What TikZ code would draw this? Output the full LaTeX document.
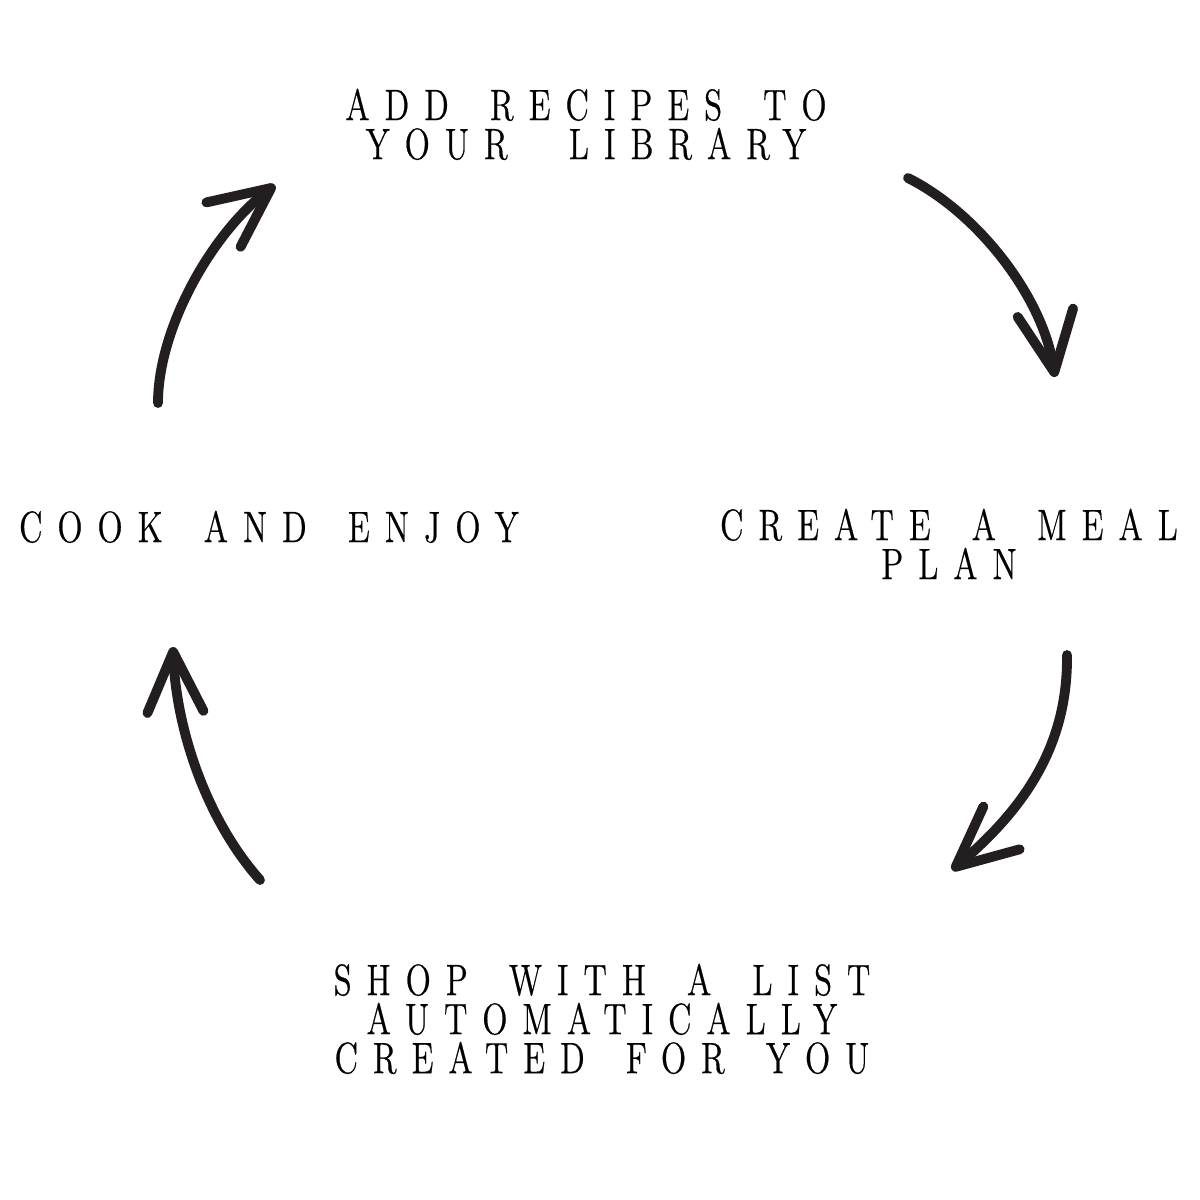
\documentclass[tikz,border=0pt]{standalone}
\usepackage{fontspec}
\usepackage{xcolor}
\usetikzlibrary{
    arrows.meta
}
\definecolor{inkgray}{HTML}{231F20}
\newfontfamily\stagefont{lmroman12-regular.otf}[FakeStretch=0.75,LetterSpace=34,WordSpace=1.6,FakeBold=0.5]

\begin{document}
\begin{tikzpicture}[x=0.01cm,y=-0.01cm,>={Straight Barb[round,length=6mm,width=5.6mm]}]
    \tikzstyle{stagetext}=[inner sep=0pt, anchor=north, align=center, text=black, font=\stagefont\fontsize{12.5pt}{11.1pt}\selectfont]
    \tikzstyle{turn}=[draw=inkgray, line width=2.8pt, line cap=round, ->]
    \useasboundingbox (0,0) rectangle (1200,1200);

	\node [stagetext] (add) at (586, 88) {ADD RECIPES TO\\ YOUR \hspace{2mm}LIBRARY};
	\node [stagetext] (plan) at (949, 508) {CREATE A MEAL\\ PLAN};
	\node [stagetext] (shop) at (602, 963) {SHOP WITH A LIST\\ AUTOMATICALLY\\ CREATED FOR YOU};
	\node [stagetext] (cook) at (269, 510) {COOK AND ENJOY};

	% arrow ends
	\coordinate (a1) at (908, 178);
	\coordinate (b1) at (1055, 377);
	\coordinate (a2) at (1067, 655);
	\coordinate (b2) at (952, 870);
	\coordinate (a3) at (260, 880);
	\coordinate (b3) at (173, 647);
	\coordinate (a4) at (158, 403);
	\coordinate (b4) at (275, 185);

	\draw [turn] (a1) .. controls (978, 213) and (1043, 297) .. (b1);
	\draw [turn] (a2) .. controls (1068, 745) and (1025, 808) .. (b2);
	\draw [turn] (a3) .. controls (205, 818) and (176, 727) .. (b3);
	\draw [turn] (a4) .. controls (158, 330) and (210, 235) .. (b4);
\end{tikzpicture}
\end{document}
